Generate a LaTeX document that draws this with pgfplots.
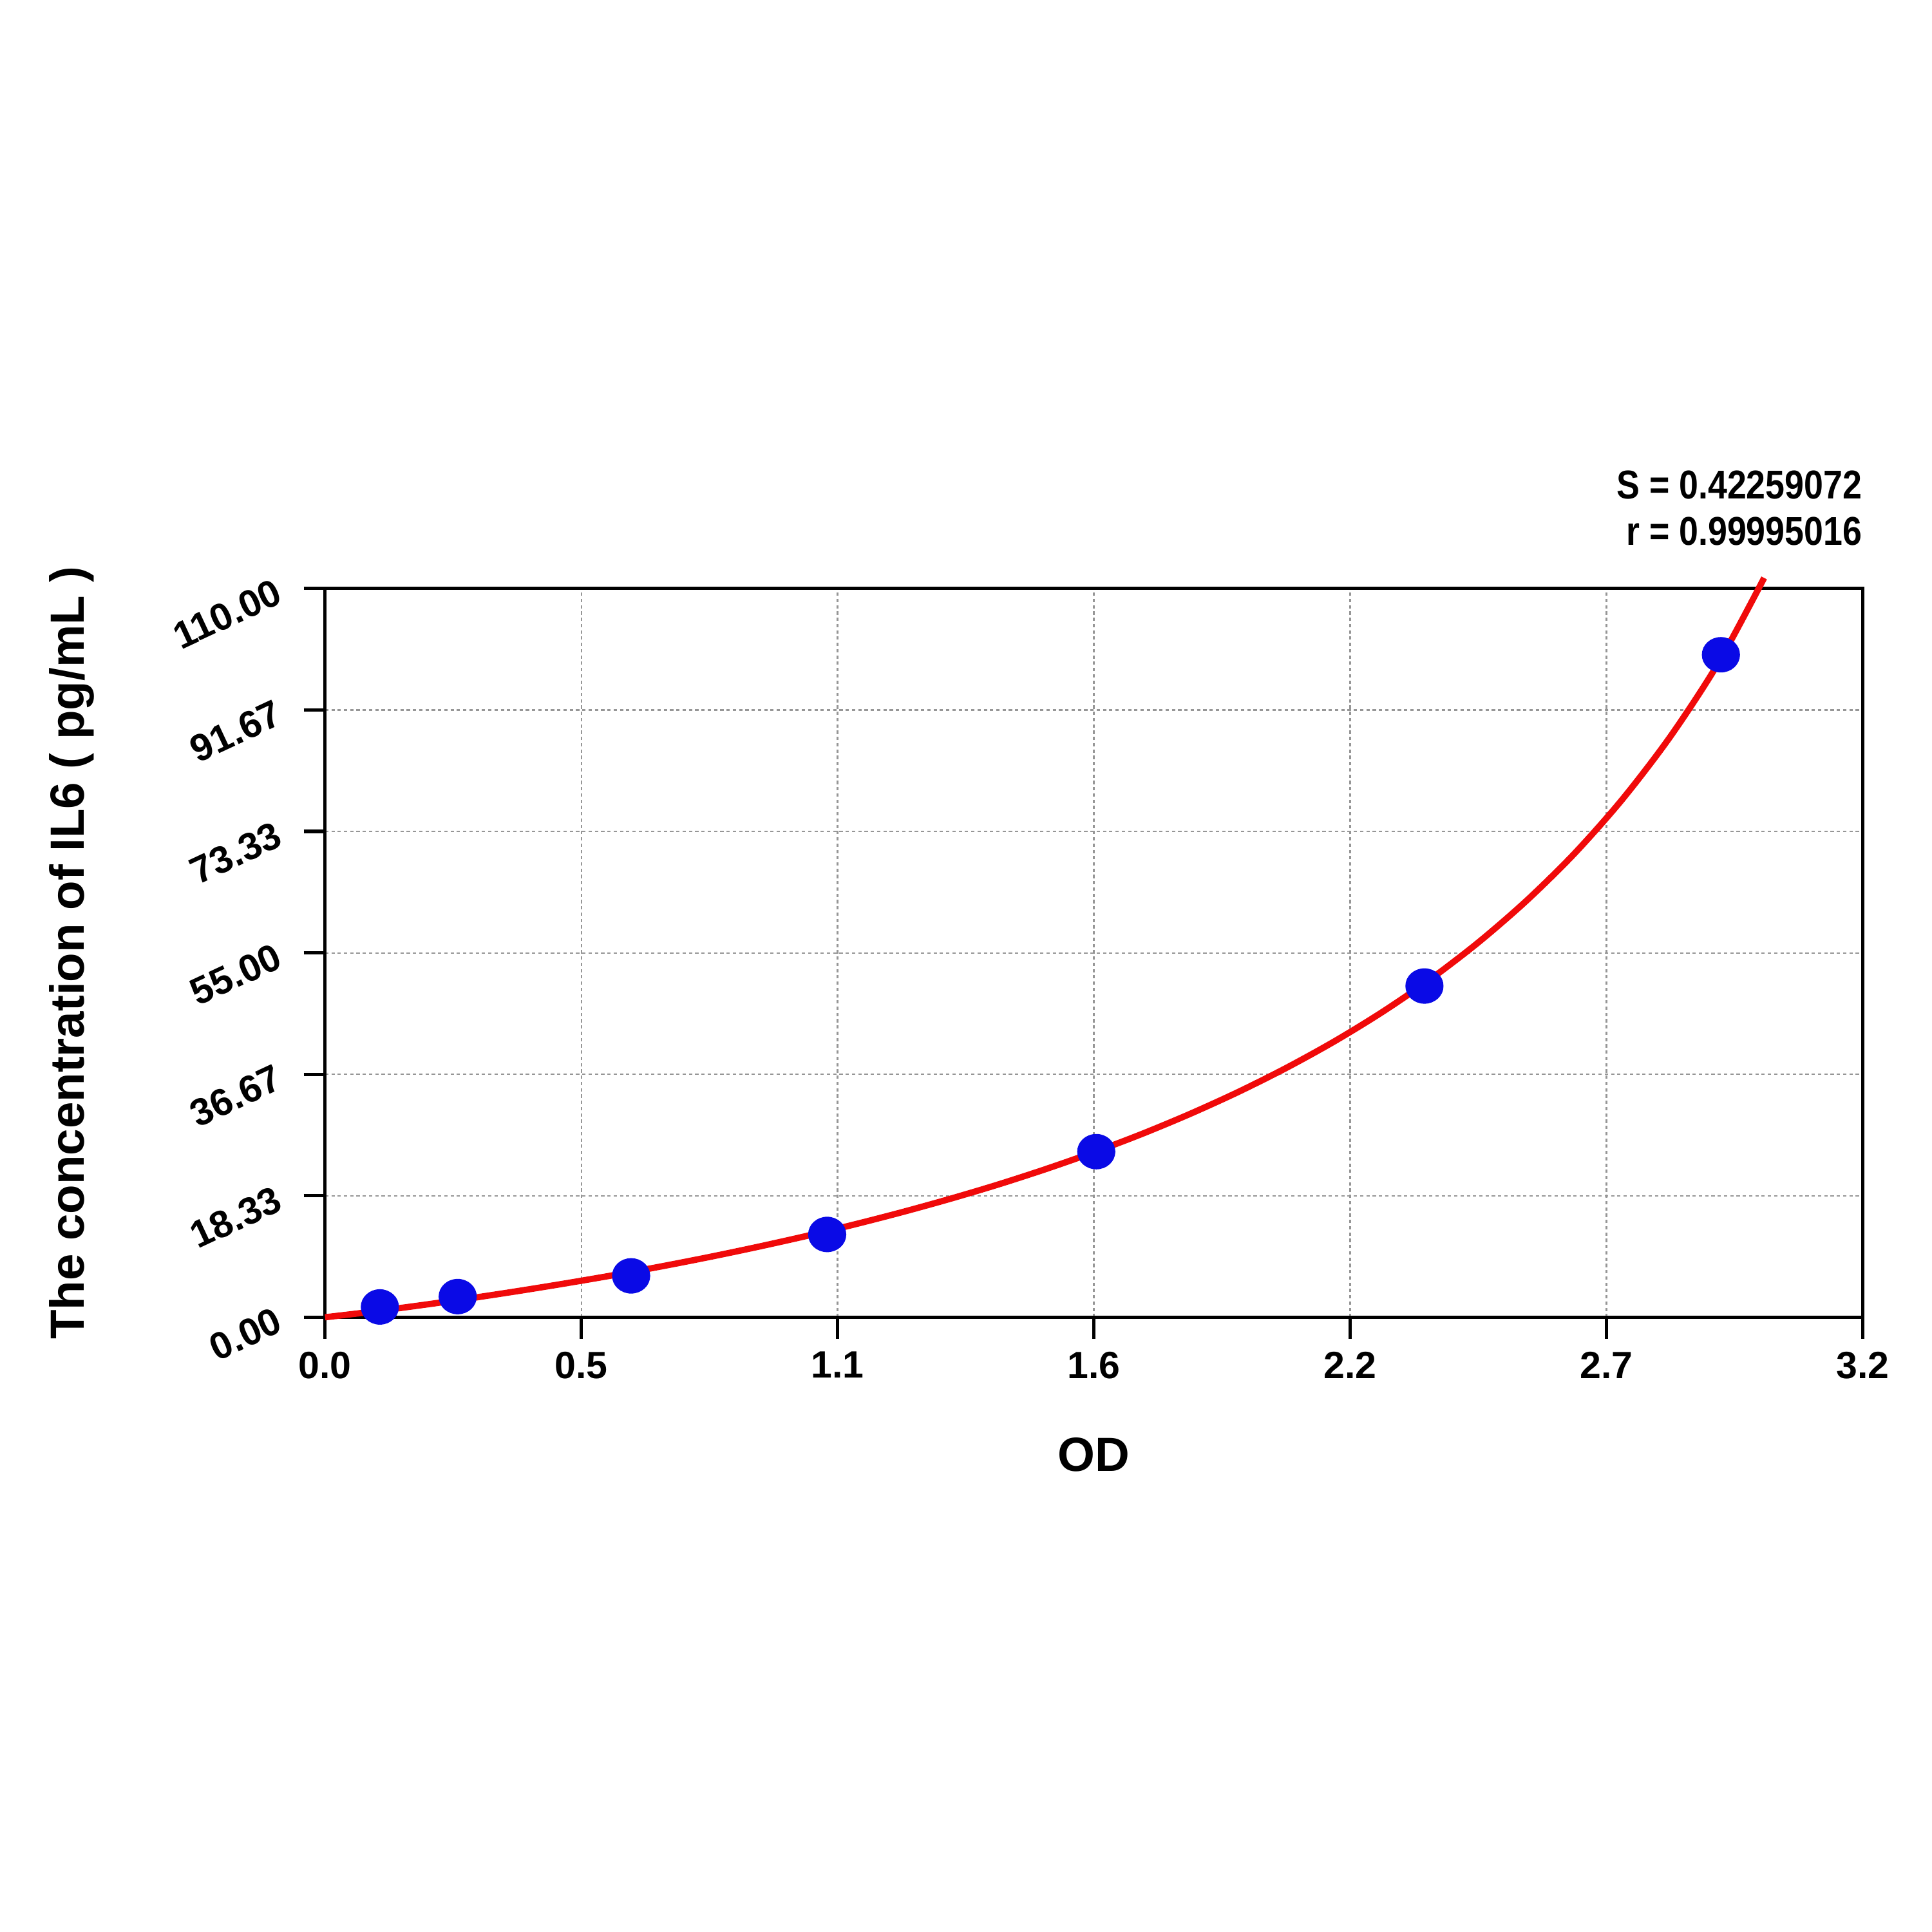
\documentclass[border=0pt]{standalone}
\usepackage{fontspec}
\setmainfont{Liberation Sans}
\usepackage{graphicx}
\usepackage{pgfplots}
\pgfplotsset{compat=1.18}
\definecolor{dotblue}{RGB}{10,10,230}
\definecolor{fitred}{RGB}{240,10,10}
\definecolor{gridgray}{RGB}{150,150,150}

\begin{document}
\begin{tikzpicture}
\path[use as bounding box] (-88.1pt,-166.6pt) rectangle (435.5pt,357.0pt);
\begin{axis}[
    scale only axis,
    width=416.7pt,
    height=197.5pt,
    xmin=0, xmax=3.2,
    ymin=0, ymax=110,
    clip=false,
    axis line style={line width=0.9pt},
    tick align=outside,
    tick pos=left,
    major tick length=5.8pt,
    minor tick length=3.8pt,
    every tick/.style={black, line width=0.9pt},
    minor x tick num=3,
    minor y tick num=3,
    xtick={0,0.53333,1.06667,1.6,2.13333,2.66667,3.2},
    xticklabels={0.0,0.5,1.1,1.6,2.2,2.7,3.2},
    ytick={0,18.3333,36.6667,55,73.3333,91.6667,110},
    yticklabels={0.00,18.33,36.67,55.00,73.33,91.67,110.00},
    /pgf/number format/assume math mode=true,
    ticklabel style={font=\fontsize{10.3}{12}\selectfont\bfseries},
    yticklabel style={xshift=-3.5pt, yshift=1.1pt, rotate=25, anchor=east},
    grid=major,
    grid style={gridgray, line width=0.4pt, dash pattern=on 0.9pt off 0.8pt},
    xlabel={OD},
    xlabel style={at={(axis description cs:0.5,0)}, anchor=center, yshift=-37.2pt,
                  font=\fontsize{13}{15}\selectfont\bfseries},
    ylabel={The concentration of IL6 ( pg/mL )},
    ylabel style={at={(axis description cs:0,0.5)}, anchor=center, yshift=68.7pt,
                  font=\fontsize{13}{15}\selectfont\bfseries},
]
% standards
\addplot[only marks, mark=*, mark size=4.6pt,
         mark options={fill=dotblue, draw=dotblue, xscale=1.08}]
coordinates {
    (0.114,1.56) (0.276,3.12) (0.637,6.25) (1.045,12.5)
    (1.605,25) (2.288,50) (2.905,100)
};
% fitted curve
\addplot[fitred, line width=1.7pt, smooth] coordinates {
    (0.0,0.0) (0.1,0.86) (0.2,1.82) (0.3,2.84) (0.4,3.94) (0.5,5.11)
    (0.6,6.35) (0.7,7.68) (0.8,9.10) (0.9,10.62) (1.0,12.24)
    (1.1,13.98) (1.2,15.85) (1.3,17.86) (1.4,20.02) (1.5,22.37)
    (1.6,24.91) (1.7,27.67) (1.8,30.69) (1.9,33.99) (2.0,37.62)
    (2.1,41.62) (2.2,46.06) (2.3,51.01) (2.4,56.57) (2.5,62.85)
    (2.6,69.98) (2.7,78.19) (2.8,87.68) (2.9,98.79) (2.995,111.6)
};
\node[anchor=base east, inner sep=0pt, font=\fontsize{10.9}{12}\selectfont\bfseries]
    at (rel axis cs:1,1) [yshift=24.3pt] {\scalebox{0.86}[1]{S = 0.42259072}};
\node[anchor=base east, inner sep=0pt, font=\fontsize{10.9}{12}\selectfont\bfseries]
    at (rel axis cs:1,1) [yshift=11.7pt] {\scalebox{0.86}[1]{r = 0.99995016}};
\end{axis}
\end{tikzpicture}
\end{document}
